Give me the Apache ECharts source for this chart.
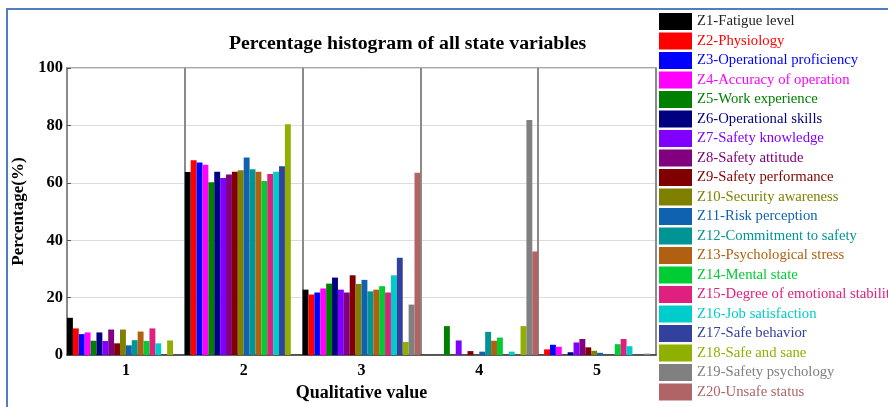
<!DOCTYPE html>
<html>
<head>
<meta charset="utf-8">
<script src="https://cdn.jsdelivr.net/npm/echarts@6/dist/echarts.min.js"></script>
<style>
  html, body { margin: 0; padding: 0; background: #fff; overflow: hidden; }
  #chart { width: 888px; height: 407px; }
</style>
</head>
<body>
<div id="chart"></div>
<script>
// Qualitative value categories on the x axis
const categories = ['1', '2', '3', '4', '5'];

// State variable names (one bar series each)
const variableNames = [
  'Z1-Fatigue level', 'Z2-Physiology', 'Z3-Operational proficiency', 'Z4-Accuracy of operation',
  'Z5-Work experience', 'Z6-Operational skills', 'Z7-Safety knowledge', 'Z8-Safety attitude',
  'Z9-Safety performance', 'Z10-Security awareness', 'Z11-Risk perception', 'Z12-Commitment to safety',
  'Z13-Psychological stress', 'Z14-Mental state', 'Z15-Degree of emotional stability', 'Z16-Job satisfaction',
  'Z17-Safe behavior', 'Z18-Safe and sane', 'Z19-Safety psychology', 'Z20-Unsafe status'
];

// Percentage of each variable (Z1..Z20) at each qualitative value
const level1 = [13.0, 9.3, 7.3, 7.9, 5.0, 7.9, 4.9, 8.9, 4.1, 8.9, 3.4, 5.2, 8.2, 4.9, 9.3, 4.1, 0, 5.1, 0, 0];
const level2 = [63.8, 67.9, 67.1, 66.3, 60.2, 63.9, 61.7, 62.9, 63.9, 64.4, 68.8, 64.7, 63.9, 60.6, 63.1, 63.9, 65.8, 80.4, 0, 0];
const level3 = [22.8, 21.1, 21.8, 23.2, 24.9, 27.0, 22.8, 21.8, 27.8, 24.8, 26.2, 22.2, 22.8, 24.0, 21.8, 27.8, 33.9, 4.6, 17.6, 63.5];
const level4 = [0, 0, 0, 0, 10.1, 0, 5.1, 0, 1.4, 0, 1.2, 8.1, 5.0, 6.1, 0, 1.2, 0, 10.1, 81.9, 36.1];
const level5 = [0, 2.0, 3.6, 2.9, 0, 1.0, 4.4, 5.6, 2.7, 1.5, 0.8, 0, 0, 3.8, 5.6, 3.1, 0, 0, 0.5, 0];

// Y axis range
const yMin = 0, yMax = 100, yStep = 20;

// Bar palette, in series order
const palette = [
  '#000000', '#ff0000', '#0000ff', '#ff00ff', '#008000', '#000080', '#8000ff', '#800080',
  '#800000', '#808000', '#0f62b0', '#009494', '#b06010', '#00cc33', '#e0207f', '#00cccc',
  '#32409e', '#8fb000', '#808080', '#b06466'
];

const levels = [level1, level2, level3, level4, level5];
const serif = '"Liberation Serif", "Times New Roman", serif';

const series = variableNames.map((name, i) => ({
  name: name,
  type: 'bar',
  barGap: '0%',
  barCategoryGap: '0%',
  itemStyle: { color: palette[i] },
  data: levels.map(l => l[i])
}));

const chart = echarts.init(document.getElementById('chart'), null, { renderer: 'canvas' });
chart.setOption({
  animation: false,
  backgroundColor: '#fff',
  title: {
    text: 'Percentage histogram of all state variables',
    left: 229,
    top: 34,
    padding: 0,
    textStyle: { fontFamily: serif, fontSize: 19.8, fontWeight: 'bold', color: '#000' }
  },
  grid: {
    left: 67, right: 232, top: 68, bottom: 45,
    show: true, borderColor: '#8a8a8a', borderWidth: 1.5, backgroundColor: 'transparent'
  },
  legend: {
    orient: 'vertical',
    left: 659,
    top: 13,
    padding: 0,
    itemWidth: 33,
    itemHeight: 17,
    itemGap: 2.5,
    icon: 'rect',
    backgroundColor: '#fff',
    data: variableNames.map((n, i) => ({
      name: n,
      textStyle: { color: palette[i] === '#000000' ? '#222' : palette[i] }
    })),
    textStyle: { fontFamily: serif, fontSize: 14.7, lineHeight: 17 }
  },
  xAxis: {
    type: 'category',
    data: categories,
    boundaryGap: true,
    axisLine: { show: true, lineStyle: { color: '#333', width: 1.5 } },
    axisTick: { show: false },
    axisLabel: { fontFamily: serif, fontSize: 16, fontWeight: 'bold', color: '#000', margin: 8 },
    splitLine: { show: true, interval: 0, lineStyle: { color: '#8a8a8a', width: 2 } },
    name: 'Qualitative value',
    nameLocation: 'middle',
    nameGap: 27,
    nameTextStyle: { fontFamily: serif, fontSize: 18, fontWeight: 'bold', color: '#000' }
  },
  yAxis: {
    type: 'value',
    min: yMin, max: yMax, interval: yStep,
    axisLine: { show: true, lineStyle: { color: '#8a8a8a', width: 1.5 } },
    axisTick: { show: true, inside: true, length: 4, lineStyle: { color: '#555' } },
    axisLabel: { fontFamily: serif, fontSize: 16.5, fontWeight: 'bold', color: '#000', margin: 4 },
    splitLine: { show: true, lineStyle: { color: '#dcdcdc', width: 1 } },
    name: 'Percentage(%)',
    nameLocation: 'middle',
    nameGap: 38,
    nameTextStyle: { fontFamily: serif, fontSize: 17, fontWeight: 'bold', color: '#000' }
  },
  graphic: [
    { type: 'line', shape: { x1: 7, y1: 9, x2: 7, y2: 407 }, style: { stroke: '#4f7fbf', lineWidth: 2 }, z: 100 },
    { type: 'line', shape: { x1: 6, y1: 9, x2: 888, y2: 9 }, style: { stroke: '#4f7fbf', lineWidth: 2 }, z: 100 }
  ],
  series: series
});
</script>
</body>
</html>
